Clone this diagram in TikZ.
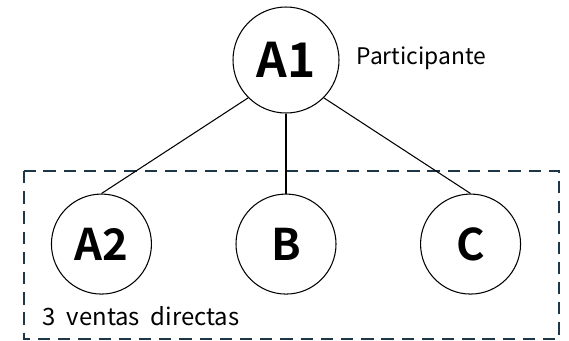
\documentclass[tikz,border=0pt]{standalone}
\usepackage{fontspec}
\setmainfont{Noto Sans CJK JP}[BoldFont={Noto Sans CJK JP Bold}]
\usepackage{tikz}
\usetikzlibrary{positioning}
\usetikzlibrary{calc}
\definecolor{boxnavy}{HTML}{1E3748}
\tikzset{main node/.style={circle,draw,line width=0.6pt,minimum size=2cm,inner sep=0pt,font=\fontsize{24.8}{28}\selectfont\bfseries},}
\tikzset{group box/.style={draw=boxnavy,line width=1.5pt,dash pattern=on 7pt off 4.5pt},}

\begin{document}
\begin{tikzpicture}[auto, node distance=1.67cm, thin]
	\useasboundingbox (0,0) rectangle (11.38,-6.8);
		\node[main node, minimum size=2.12cm, font=\fontsize{27.2}{30}\selectfont\bfseries] (a1) at (5.72,-1.2) {A1};
	    \node[main node] (b) [below = 1.6cm of a1] {B};
	    \node[main node] (a2) [left = of b] {A2};
	    \node[main node] (c) [right = of b] {C};
	    \node[font=\fontsize{13}{15}\selectfont, anchor=west] (part) [right = 0.22cm of a1, yshift=1pt] {Participante};
	
	    % grupo de ventas directas
	    \draw[group box] (0.48,-3.42) rectangle (11.18,-6.78);
	    \node[font=\fontsize{13.6}{16}\selectfont, anchor=base west, inner sep=0pt, text width=4cm] (ventas) at (0.85,-6.5) {3\hspace{0.45em}ventas\hspace{0.45em}directas};
	
	    \path[draw,line width=0.6pt]
	    (a1.south west) edge (a2.north)
	    (a1) edge (b)
	    (a1.south east) edge (c.north);
	\end{tikzpicture}
\end{document}
